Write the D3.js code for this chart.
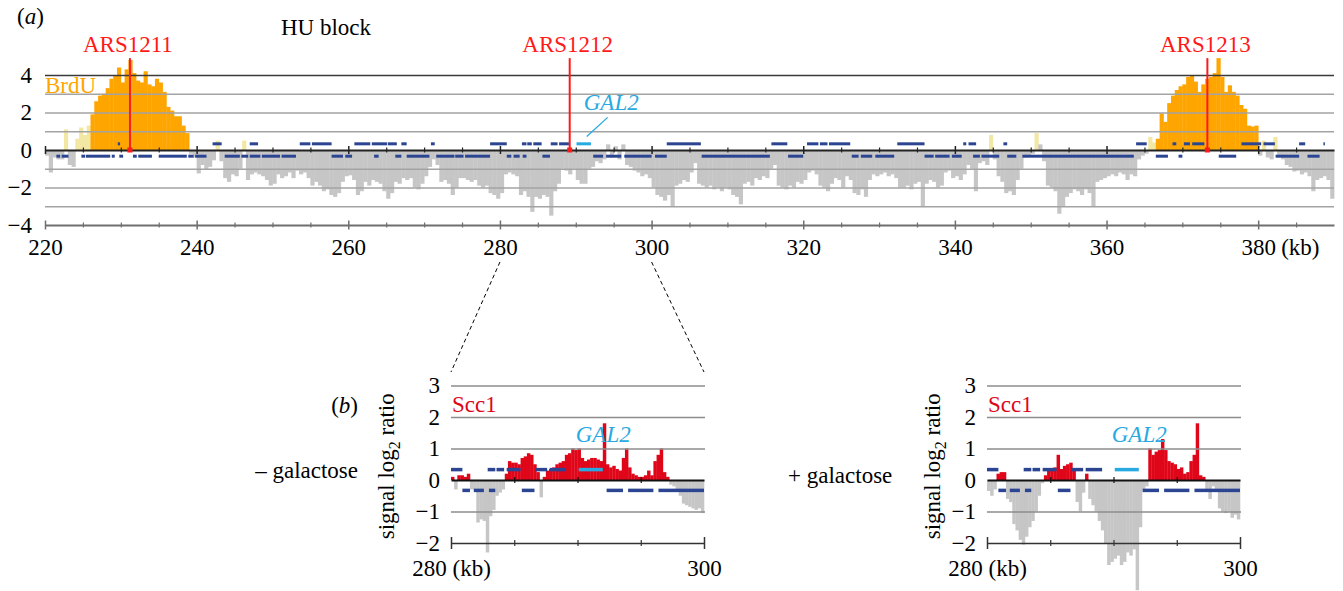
<!DOCTYPE html>
<html>
<head>
<meta charset="utf-8">
<script src="https://cdn.jsdelivr.net/npm/d3@7"></script>
<style>
  body { margin: 0; background: #fff; }
  text { font-family: "Liberation Serif", "Times New Roman", serif; }
</style>
</head>
<body>
<svg id="chart" width="1343" height="591"></svg>
<script>
// ---- data: BrdU signal (log2 ratio), 0.5 kb bins starting at 220 kb
const brduStart = 220, brduStep = 0.5;
const brdu = [
  -0.3, -1.2, -0.4, -0.5, -0.5, 1.1, -0.8, -0.9, 0.6, 1.2,
  0.8, 1.3, 1.9, 2.6, 2.9, 3.0, 3.3, 3.8, 4.0, 4.4,
  3.6, 4.3, 4.8, 4.1, 3.7, 3.6, 4.2, 3.5, 3.4, 3.8,
  3.6, 3.1, 2.3, 2.1, 1.8, 1.8, 1.3, 0.9, -0.2, -0.4,
  -1.25, -0.8, -1.05, -0.9, -0.55, 0.5, -0.6, -1.5, -1.7, -1.3,
  -1.4, -1.0, 0.5, -1.6, -1.3, -1.2, -1.3, -1.4, -1.6, -1.9,
  -1.8, -1.3, -1.5, -1.4, -1.2, -1.5, -1.1, -1.3, -1.2, -1.5,
  -1.9, -1.7, -1.9, -2.2, -2.1, -2.4, -2.5, -2.3, -1.7, -1.4,
  -1.35, -1.6, -2.4, -2.2, -1.7, -1.9, -1.6, -1.7, -1.8, -2.2,
  -2.6, -2.3, -1.7, -1.8, -1.5, -1.6, -1.5, -2.0, -2.1, -1.8,
  -1.4, -0.9, -0.5, -0.8, -1.7, -1.6, -1.8, -2.4, -2.0, -1.5,
  -1.5, -1.6, -1.7, -1.6, -1.9, -2.0, -1.9, -2.3, -2.4, -2.6,
  -2.3, -1.3, -1.2, -1.3, -1.4, -2.4, -2.2, -2.5, -3.3, -2.5,
  -2.6, -2.4, -2.5, -3.5, -2.2, -1.8, -1.0, -1.1, -1.3, -1.0,
  -1.6, -1.8, -1.8, -1.0, -0.9, -0.6, -0.7, -0.5, 0.3, -0.4,
  0.2, -0.5, 0.3, -0.8, -0.9, -1.1, -1.2, -1.4, -1.3, -1.5,
  -2.0, -2.4, -2.5, -2.7, -2.4, -3.0, -1.9, -1.8, -1.6, -1.7,
  -1.2, -0.7, -1.8, -1.9, -2.0, -1.9, -2.1, -2.0, -2.2, -2.0,
  -2.1, -2.4, -2.5, -2.9, -1.8, -1.7, -1.9, -1.5, -1.6, -1.4,
  -1.5, -1.0, -0.8, -1.9, -2.0, -2.1, -1.9, -2.0, -1.7, -1.8,
  -1.6, -1.2, -1.1, -1.3, -1.9, -2.0, -2.2, -1.8, -1.5, -1.6,
  -2.0, -1.4, -1.6, -2.3, -2.4, -2.1, -2.5, -1.6, -1.3, -1.4,
  -1.3, -1.2, -1.4, -1.3, -1.5, -2.0, -2.0, -1.9, -2.1, -1.8,
  -1.7, -3.0, -1.8, -1.6, -1.7, -2.0, -1.9, -1.2, -1.1, -1.5,
  -1.4, -1.6, -1.3, -0.8, -1.0, -2.2, -0.7, -0.6, -0.8, 0.8,
  -0.5, -1.4, -1.7, -2.3, -2.2, -2.4, -1.6, -1.0, -0.4, -0.3,
  -0.2, 0.9, 0.3, -0.6, -1.9, -2.0, -2.2, -3.4, -3.0, -2.5,
  -2.3, -2.1, -2.2, -2.4, -2.1, -2.3, -3.0, -1.7, -1.6, -1.5,
  -1.4, -1.3, -1.4, -1.2, -1.3, -1.6, -1.3, -1.4, -0.5, -0.3,
  -0.2, 0.7, 0.4, 0.6, 1.95, 1.5, 2.5, 2.9, 3.2, 3.4,
  3.5, 3.9, 4.0, 3.65, 3.1, 3.5, 3.8, 3.9, 4.1, 4.9,
  3.9, 3.1, 3.45, 3.1, 2.9, 2.4, 2.2, 1.3, 1.25, 1.3,
  -0.3, 0.5, -0.4, -0.5, 0.7, -0.3, -0.5, -0.8, -0.9, -1.15,
  -1.1, -1.3, -1.2, -1.4, -2.2, -1.6, -1.5, -1.4, -1.6, -2.6
];
// BrdU peaks called around the early origins
const brduPeaks = [[226, 239], [366.5, 380]];

// genes (kb), upper strand and lower strand
const watsonGenes = [
  [229.6, 229.9], [242.1, 243.3], [247.0, 248.1], [253.6, 255.0], [255.2, 257.8],
  [260.8, 262.9], [263.1, 265.1], [265.2, 266.4], [267.0, 267.7], [270.9, 271.4],
  [278.7, 280.9], [282.9, 283.5], [283.6, 284.2], [284.4, 285.5], [286.7, 287.6],
  [287.8, 289.1], [302.0, 306.5], [315.8, 317.9], [320.5, 322.0], [322.2, 323.2],
  [323.4, 326.2], [332.4, 336.0], [341.1, 341.5], [341.8, 342.8], [346.4, 346.9],
  [363.9, 365.3], [368.7, 369.2], [370.2, 371.0], [371.3, 372.9], [377.8, 380.4],
  [380.7, 382.2], [385.4, 386.2], [388.6, 388.8]
];
const crickGenes = [
  [221.5, 222.0], [222.2, 223.1], [224.8, 225.3], [225.4, 228.6], [228.8, 229.2],
  [229.8, 230.3], [231.6, 232.1], [232.3, 234.1], [235.0, 238.7], [238.9, 239.6],
  [239.8, 241.3], [243.7, 245.7], [245.9, 246.8], [247.0, 248.4], [248.6, 251.0],
  [251.2, 253.1], [257.8, 259.3], [259.6, 260.5], [263.4, 264.0], [266.2, 267.0],
  [267.7, 270.7], [271.6, 274.0], [274.1, 275.2], [275.4, 278.7], [280.9, 281.5],
  [281.8, 282.6], [283.0, 283.5], [285.6, 286.6], [292.3, 293.6], [294.0, 296.0],
  [296.4, 300.0], [300.45, 302.0], [306.6, 315.6], [318.0, 320.0], [326.4, 327.3],
  [327.6, 329.1], [329.5, 332.0], [336.0, 337.2], [337.4, 339.3], [339.6, 340.9],
  [342.4, 343.3], [343.5, 345.85], [346.9, 348.1], [348.9, 363.6], [366.5, 368.1],
  [369.5, 370.0], [374.8, 377.1], [382.3, 385.4], [386.5, 388.1]
];
const gal2 = [290.1, 292.0];
const geneLevel = 0.33;

const arsSites = [
  { name: "ARS1211", kb: 231.2 },
  { name: "ARS1212", kb: 289.2 },
  { name: "ARS1213", kb: 373.3 }
];

// Scc1 signal (log2 ratio), 0.25 kb bins starting at 280 kb
const scc1Start = 280, scc1Step = 0.25;
const scc1NoGal = [
  0.1, -0.3, 0.15, 0.15, 0.1, 0.2, -0.3, -0.3,
  -1.35, -1.25, -1.3, -2.3, -1.15, -0.95, -0.5, -0.4,
  -0.3, 0.2, 0.6, 0.55, 0.55, 0.5, 0.7, 0.75,
  0.85, 0.8, 0.5, 0.25, -0.55, 0.1, 0.3, 0.35,
  0.4, 0.5, 0.55, 0.6, 0.8, 0.85, 1.0, 0.95,
  1.0, 0.7, 0.6, 0.65, 0.7, 0.7, 0.65, 0.6,
  1.8, 0.5, 0.4, 0.45, 0.35, 0.3, 0.7, 1.0,
  0.4, 0.2, 0.15, 0.1, 0.1, 0.15, 0.3, 0.15,
  0.6, 0.8, 1.0, 0.25, 0.1, -0.15, -0.2, -0.3,
  -0.5, -0.75, -0.8, -0.85, -0.9, -0.95, -0.9, -1.05
];
const scc1Gal = [
  -0.35, -0.5, -0.3, 0.2, 0.25, 0.25, -0.6, -0.7,
  -1.4, -1.6, -1.9, -2.05, -1.8, -1.5, -1.3, -1.0,
  -0.5, -0.1, 0.15, 0.3, 0.35, 0.4, 0.8, 0.35,
  0.45, 0.5, 0.55, 0.3, -0.7, -1.0, -0.4, 0.2,
  -0.6, -0.8, -1.0, -1.3, -1.6, -2.0, -2.7, -2.6,
  -2.5, -2.4, -2.7, -2.6, -2.3, -2.4, -2.2, -3.5,
  -1.5, -0.3, -0.2, 1.0, 0.8, 0.9, 0.95, 1.3,
  0.95, 0.6, 0.55, 0.5, 0.35, 0.4, 0.2, 0.25,
  0.6, 0.8, 1.8, 0.15, 0.1, -0.3, -0.6, -0.2,
  -0.3, -0.9, -1.0, -1.05, -1.0, -1.2, -1.1, -1.25
];

// ticks
const topXMajor = [220, 240, 260, 280, 300, 320, 340, 360, 380];
const topXMinor = d3.range(225, 390, 5).filter(d => d % 20 !== 0);
const topYLabels = [-4, -2, 0, 2, 4];
const topYGrid = [-3, -2, -1, 1, 2, 3];
const zoomXMajor = [280, 300];
const zoomXMinor = [285, 290, 295];
const zoomYLabels = [-2, -1, 0, 1, 2, 3];
const zoomYGrid = [-1, 1, 2, 3];

const grey = "#c6c6c6", orange = "#ffa500", pale = "#f3e7a4";
const geneBlue = "#2c4592", galBlue = "#27aae1";
const arsRed = "#ff1a1a", sccRed = "#e0061a";
const fs = 23;
const intFmt = d3.format("d");

const svg = d3.select("#chart");

function brduColor(d) {
    if (d.v < 0) return grey;
    const inPeak = brduPeaks.some(([a, b]) => d.kb >= a && d.kb < b);
    if (inPeak) return orange;
    return d.v > 0.35 ? pale : grey;
}

// horizontal line with ticks crossing it on both sides
function tickedLine(g, x, yPos, majors, minors, color, width, majLen, minLen) {
    const line = g.append("g").attr("transform", `translate(0,${yPos})`);
    line.call(d3.axisBottom(x).tickValues(minors).tickFormat("").tickSizeOuter(0))
        .call(a => a.select(".domain").attr("stroke", color).attr("stroke-width", width))
        .call(a => a.selectAll(".tick line").attr("stroke", color).attr("stroke-width", 1.2)
            .attr("y1", -minLen).attr("y2", minLen));
    const maj = g.append("g").attr("transform", `translate(0,${yPos})`);
    maj.call(d3.axisBottom(x).tickValues(majors).tickFormat("").tickSizeOuter(0))
        .call(a => a.select(".domain").remove())
        .call(a => a.selectAll(".tick line").attr("stroke", color).attr("stroke-width", 1.5)
            .attr("y1", -majLen).attr("y2", majLen));
}

function drawGenes(g, x, y, clip) {
    const lo = clip ? clip[0] : -Infinity, hi = clip ? clip[1] : Infinity;
    const keep = list => list.filter(([a, b]) => b > lo && a < hi)
        .map(([a, b]) => [Math.max(a, lo), Math.min(b, hi)]);
    const h = clip ? 3.5 : 3;
    g.append("g").selectAll("rect").data(keep(watsonGenes)).join("rect")
        .attr("x", d => x(d[0])).attr("width", d => x(d[1]) - x(d[0]))
        .attr("y", y(geneLevel) - h / 2).attr("height", h).attr("fill", geneBlue);
    g.append("g").selectAll("rect").data(keep(crickGenes)).join("rect")
        .attr("x", d => x(d[0])).attr("width", d => x(d[1]) - x(d[0]))
        .attr("y", y(-geneLevel) - h / 2).attr("height", h).attr("fill", geneBlue);
    g.append("rect")
        .attr("x", x(gal2[0])).attr("width", x(gal2[1]) - x(gal2[0]))
        .attr("y", y(geneLevel) - h / 2).attr("height", h).attr("fill", galBlue);
}

// ================= (a) top panel =================
const xTop = d3.scaleLinear().domain([220, 390]).range([45, 1334]);
const yTop = d3.scaleLinear().domain([-4, 5]).range([225, 56.25]);
const topG = svg.append("g");

const brduData = brdu.map((v, i) => ({ kb: brduStart + i * brduStep, v }));
const topBarW = xTop(brduStart + brduStep) - xTop(brduStart);
topG.append("g").selectAll("rect").data(brduData).join("rect")
    .attr("x", d => xTop(d.kb))
    .attr("width", topBarW + 0.4)
    .attr("y", d => yTop(Math.max(d.v, 0)))
    .attr("height", d => Math.abs(yTop(d.v) - yTop(0)))
    .attr("fill", brduColor);

// gridlines
topG.append("g").attr("transform", `translate(${xTop.range()[0]},0)`)
    .call(d3.axisLeft(yTop).tickValues(topYGrid).tickFormat("")
        .tickSize(-(xTop.range()[1] - xTop.range()[0])).tickSizeOuter(0))
    .call(g => g.select(".domain").remove())
    .call(g => g.selectAll(".tick line").attr("stroke", "#a3a3a3").attr("stroke-width", 1.5));
topG.append("g").attr("transform", `translate(${xTop.range()[0]},0)`)
    .call(d3.axisLeft(yTop).tickValues([4]).tickFormat("")
        .tickSize(-(xTop.range()[1] - xTop.range()[0])).tickSizeOuter(0))
    .call(g => g.select(".domain").remove())
    .call(g => g.selectAll(".tick line").attr("stroke", "#3a3a3a").attr("stroke-width", 1.5));

// zero line and bottom axis
tickedLine(topG, xTop, yTop(0), topXMajor, topXMinor, "#222", 2, 4, 2.5);
tickedLine(topG, xTop, yTop(-4), topXMajor, topXMinor, "#6f6f6f", 2, 4.5, 2.5);

drawGenes(topG, xTop, yTop, null);

// y labels
topG.append("g").attr("transform", `translate(${xTop.range()[0]},0)`)
    .call(d3.axisLeft(yTop).tickValues(topYLabels).tickFormat(intFmt).tickSize(0).tickPadding(13))
    .call(g => g.select(".domain").remove())
    .call(g => g.selectAll("text").attr("font-size", fs).attr("fill", "#000")
        .attr("font-family", "Liberation Serif, serif"));

// x labels
topG.append("g").attr("transform", `translate(0,${yTop(-4)})`)
    .call(d3.axisBottom(xTop).tickValues(topXMajor).tickFormat(intFmt).tickSize(0))
    .call(g => g.select(".domain").remove())
    .call(g => g.selectAll("text").attr("dy", null).attr("y", 30).attr("font-size", fs)
        .attr("fill", "#000").attr("font-family", "Liberation Serif, serif"));
topG.append("text").attr("x", xTop(380) + 23).attr("y", yTop(-4) + 30)
    .attr("font-size", fs).text("(kb)");

// ARS sites
const ars = topG.append("g").selectAll("g").data(arsSites).join("g");
ars.append("line")
    .attr("x1", d => xTop(d.kb)).attr("x2", d => xTop(d.kb))
    .attr("y1", yTop(4.9)).attr("y2", yTop(0))
    .attr("stroke", arsRed).attr("stroke-width", 2);
ars.append("rect")
    .attr("x", d => xTop(d.kb) - 2.5).attr("y", yTop(0) - 2.5)
    .attr("width", 5).attr("height", 5).attr("fill", arsRed);
ars.append("text")
    .attr("x", d => xTop(d.kb) - 2).attr("y", 52)
    .attr("text-anchor", "middle").attr("font-size", fs).attr("fill", arsRed)
    .text(d => d.name);

// GAL2 annotation
const galMid = (gal2[0] + gal2[1]) / 2;
topG.append("line")
    .attr("x1", xTop(galMid) + 3).attr("y1", yTop(0.72))
    .attr("x2", xTop(galMid) + 24).attr("y2", yTop(1.74))
    .attr("stroke", galBlue).attr("stroke-width", 1.3);
topG.append("text").attr("x", xTop(galMid)).attr("y", 110)
    .attr("font-size", fs).attr("font-style", "italic").attr("fill", galBlue).text("GAL2");

topG.append("text").attr("x", 17).attr("y", 24).attr("font-size", fs)
    .html('(<tspan font-style="italic">a</tspan>)');
topG.append("text").attr("x", 281).attr("y", 35).attr("font-size", fs).text("HU block");
topG.append("text").attr("x", 45).attr("y", 93).attr("font-size", fs).attr("fill", orange).text("BrdU");

// ================= (b) zoomed panels =================
const yZoom = d3.scaleLinear().domain([-2, 3]).range([543, 385.5]);

function drawZoom(values, r0, r1, titleX) {
    const x = d3.scaleLinear().domain([280, 300]).range([r0, r1]);
    const g = svg.append("g");
    const data = values.map((v, i) => ({ kb: scc1Start + i * scc1Step, v }));
    const bw = x(scc1Start + scc1Step) - x(scc1Start);
    g.append("g").selectAll("rect").data(data).join("rect")
        .attr("x", d => x(d.kb)).attr("width", bw + 0.3)
        .attr("y", d => yZoom(Math.max(d.v, 0)))
        .attr("height", d => Math.abs(yZoom(d.v) - yZoom(0)))
        .attr("fill", d => d.v > 0 ? sccRed : grey);

    g.append("g").attr("transform", `translate(${r0},0)`)
        .call(d3.axisLeft(yZoom).tickValues(zoomYGrid).tickFormat("")
            .tickSize(-(r1 - r0 + 1)).tickSizeOuter(0))
        .call(a => a.select(".domain").remove())
        .call(a => a.selectAll(".tick line").attr("stroke", "#8c8c8c").attr("stroke-width", 1.3));

    tickedLine(g, x, yZoom(0), [], zoomXMinor, "#111", 2, 0, 3);
    tickedLine(g, x, yZoom(-2), zoomXMajor, zoomXMinor, "#333", 1.5, 6, 3);

    drawGenes(g, x, yZoom, [280, 300.3]);

    g.append("g").attr("transform", `translate(${r0},0)`)
        .call(d3.axisLeft(yZoom).tickValues(zoomYLabels).tickFormat(intFmt).tickSize(0).tickPadding(11))
        .call(a => a.select(".domain").remove())
        .call(a => a.selectAll("text").attr("font-size", fs).attr("fill", "#000")
            .attr("font-family", "Liberation Serif, serif"));

    g.append("g").attr("transform", `translate(0,${yZoom(-2)})`)
        .call(d3.axisBottom(x).tickValues(zoomXMajor).tickSize(0)
            .tickFormat(d => d === 280 ? "280 (kb)" : intFmt(d)))
        .call(a => a.select(".domain").remove())
        .call(a => a.selectAll("text").attr("dy", null).attr("y", 33).attr("font-size", fs)
            .attr("fill", "#000").attr("font-family", "Liberation Serif, serif"));

    const t = g.append("text")
        .attr("transform", `translate(${titleX},${(yZoom(3) + yZoom(-2)) / 2 + 2}) rotate(-90)`)
        .attr("text-anchor", "middle").attr("font-size", fs);
    t.append("tspan").text("signal log");
    t.append("tspan").attr("font-size", 16).attr("dy", 6).text("2");
    t.append("tspan").attr("dy", -6).text(" ratio");

    g.append("text").attr("x", r0 + 1).attr("y", 412).attr("font-size", fs)
        .attr("fill", sccRed).text("Scc1");
    g.append("text").attr("x", x(gal2[0]) - 3).attr("y", 442).attr("font-size", fs)
        .attr("font-style", "italic").attr("fill", galBlue).text("GAL2");
    return x;
}

const xLeft = drawZoom(scc1NoGal, 451, 704, 394);
drawZoom(scc1Gal, 987, 1240, 940);

svg.append("text").attr("x", 358).attr("y", 413).attr("text-anchor", "end").attr("font-size", fs)
    .html('(<tspan font-style="italic">b</tspan>)');
svg.append("text").attr("x", 358).attr("y", 478).attr("text-anchor", "end").attr("font-size", fs)
    .text("\u2013 galactose");
svg.append("text").attr("x", 788).attr("y", 483).attr("font-size", fs).text("+ galactose");

// dashed zoom connectors
svg.append("g").selectAll("line").data([280, 300]).join("line")
    .attr("x1", d => xTop(d)).attr("y1", 262)
    .attr("x2", d => xLeft(d)).attr("y2", 372)
    .attr("stroke", "#000").attr("stroke-width", 1).attr("stroke-dasharray", "4 3");
</script>
</body>
</html>
